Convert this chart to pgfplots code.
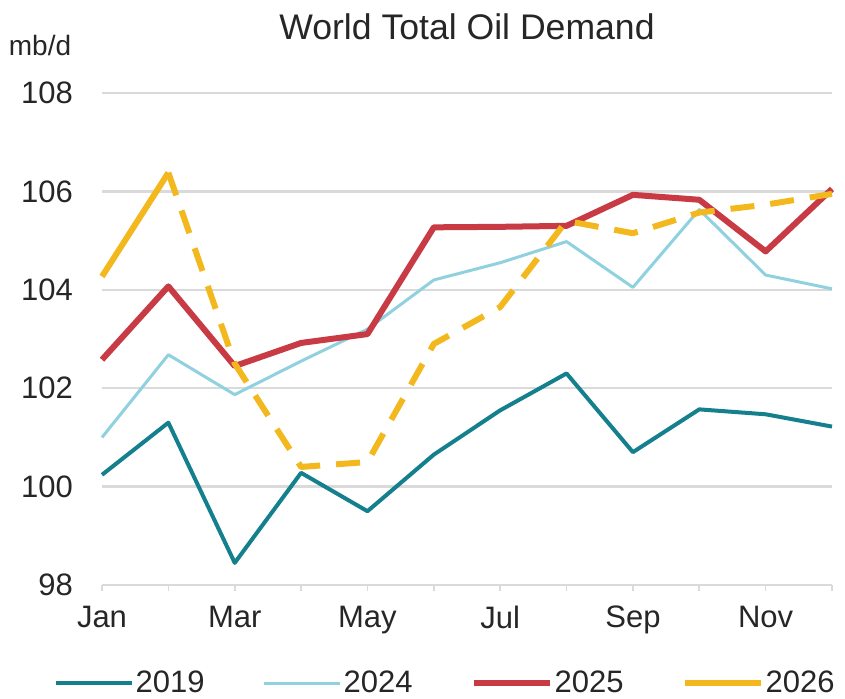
\documentclass[border=0pt]{standalone}
\usepackage{fontspec}
\setmainfont{Liberation Sans}
\usepackage{pgfplots}
\pgfplotsset{compat=1.18}

\definecolor{c2019}{HTML}{14808E}
\definecolor{c2024}{HTML}{8FD1DF}
\definecolor{c2025}{HTML}{C83A44}
\definecolor{c2026}{HTML}{F2B81E}
\definecolor{gridgray}{HTML}{DADADA}

\begin{document}
\begin{tikzpicture}
\begin{axis}[
    name=ax,
    width=365pt, height=246pt, scale only axis,
    xmin=0, xmax=11, ymin=98, ymax=108,
    ytick={98,100,...,108},
    xtick={0,...,11},
    xticklabels={Jan,,Mar,,May,,Jul,,Sep,,Nov,},
    axis lines*=left,
    x axis line style={draw=gridgray, line width=1.2pt},
    y axis line style={draw=none},
    ytick style={draw=none},
    xtick style={draw=gridgray, line width=0.8pt},
    tick align=outside,
    major tick length=3pt,
    ymajorgrids,
    grid style={draw=gridgray, line width=1.2pt},
    ticklabel style={font=\fontsize{15.5}{18}\selectfont, text=black!85},
    yticklabel style={xshift=-8pt},
    xticklabel style={yshift=-4pt},
    /pgf/number format/assume math mode=true,
    clip=false,
    title={World Total Oil Demand},
    title style={font=\fontsize{17.8}{21}\selectfont, text=black!85, at={(0.5,1)}, anchor=center, yshift=27pt},
    legend style={at={(0.47,0)}, anchor=center, yshift=-49pt, draw=none, fill=none,
        inner sep=0pt, nodes={inner sep=1pt},
        font=\fontsize{15.5}{18}\selectfont, text=black!85,
        /tikz/every even column/.append style={column sep=28pt}},
    legend columns=4,
    legend cell align=left,
    legend image code/.code={\draw[#1] (0pt,0pt) -- (38pt,0pt);},
    every axis plot/.append style={line join=round},
]
\addplot[c2019, line width=2pt] coordinates {
    (0,100.24) (1,101.30) (2,98.45) (3,100.28) (4,99.50) (5,100.65)
    (6,101.55) (7,102.30) (8,100.70) (9,101.57) (10,101.47) (11,101.22)
};
\addlegendentry{2019}
\addplot[c2024, line width=1.5pt] coordinates {
    (0,101.00) (1,102.68) (2,101.87) (3,102.55) (4,103.20) (5,104.20)
    (6,104.55) (7,104.98) (8,104.05) (9,105.63) (10,104.30) (11,104.02)
};
\addlegendentry{2024}
\addplot[c2025, line width=3pt] coordinates {
    (0,102.58) (1,104.07) (2,102.45) (3,102.92) (4,103.10) (5,105.27)
    (6,105.28) (7,105.30) (8,105.93) (9,105.83) (10,104.78) (11,106.05)
};
\addlegendentry{2025}
\addplot[c2026, line width=3pt] coordinates {
    (0,104.27) (1,106.38)
};
\addlegendentry{2026}
\addplot[c2026, line width=3pt, dash pattern=on 12pt off 8pt, forget plot] coordinates {
    (1,106.38) (2,102.50) (3,100.40) (4,100.50) (5,102.90) (6,103.65)
    (7,105.40) (8,105.15) (9,105.57) (10,105.73) (11,105.95)
};
\node[font=\fontsize{14}{17}\selectfont, text=black!85] at (rel axis cs:0,1) [xshift=-31pt, yshift=24pt] {mb/d};
\end{axis}
\path ([xshift=-51pt,yshift=-56.5pt]ax.south west) rectangle ([xshift=6.5pt,yshift=46.5pt]ax.north east);
\end{tikzpicture}
\end{document}
